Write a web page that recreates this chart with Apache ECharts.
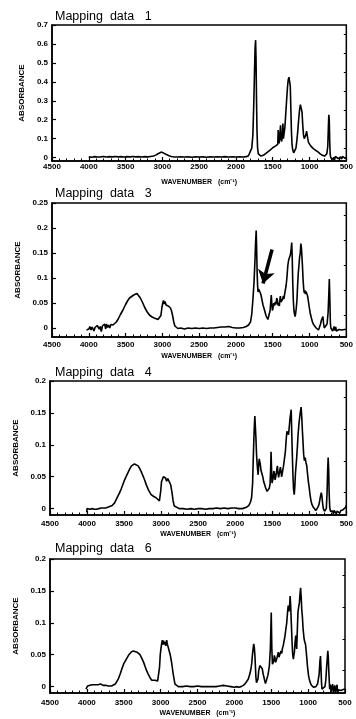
<!DOCTYPE html>
<html>
<head>
<meta charset="utf-8">
<script src="https://cdn.jsdelivr.net/npm/echarts@6/dist/echarts.min.js"></script>
<style>
  html, body { margin: 0; padding: 0; background: #fff; }
  #chart { width: 356px; height: 719px; }
</style>
</head>
<body>
<div id="chart"></div>
<script>
// IR spectra, [wavenumber (cm-1), absorbance]
const spectrum1 = [
  [4000,0.004],[3960,0.002],[3920,0.005],[3880,0.003],[3840,0.004],[3800,0.006],[3760,0.003],[3720,0.005],
  [3680,0.004],[3640,0.006],[3600,0.004],[3560,0.005],[3520,0.003],[3480,0.005],[3440,0.004],[3400,0.006],
  [3360,0.004],[3320,0.005],[3280,0.003],[3240,0.005],[3200,0.004],[3160,0.006],[3120,0.008],[3090,0.013],
  [3060,0.02],[3035,0.027],[3010,0.029],[2990,0.026],[2965,0.02],[2940,0.015],[2910,0.01],[2880,0.006],
  [2850,0.004],[2800,0.003],[2750,0.004],[2700,0.003],[2650,0.004],[2600,0.002],[2550,0.004],[2500,0.003],
  [2450,0.004],[2400,0.002],[2350,0.004],[2300,0.003],[2250,0.004],[2200,0.003],[2150,0.005],[2100,0.003],
  [2050,0.004],[2000,0.003],[1950,0.004],[1900,0.003],[1860,0.005],[1830,0.01],[1805,0.02],[1785,0.05],
  [1770,0.12],[1758,0.28],[1748,0.45],[1740,0.58],[1733,0.62],[1727,0.52],[1721,0.32],[1714,0.14],
  [1706,0.05],[1696,0.02],[1680,0.012],[1660,0.008],[1640,0.01],[1620,0.014],[1600,0.02],[1580,0.026],
  [1560,0.03],[1540,0.038],[1520,0.045],[1500,0.052],[1480,0.058],[1460,0.062],[1440,0.066],[1432,0.07],
  [1426,0.146],[1420,0.09],[1412,0.075],[1400,0.08],[1394,0.17],[1388,0.1],[1378,0.085],[1370,0.12],
  [1362,0.18],[1355,0.1],[1345,0.11],[1335,0.16],[1325,0.22],[1312,0.3],[1300,0.37],[1290,0.41],
  [1280,0.425],[1270,0.43],[1262,0.38],[1254,0.26],[1246,0.14],[1238,0.07],[1228,0.04],[1215,0.025],
  [1205,0.022],[1195,0.03],[1185,0.05],[1172,0.09],[1160,0.14],[1148,0.2],[1136,0.25],[1124,0.28],
  [1112,0.285],[1102,0.24],[1092,0.17],[1082,0.12],[1072,0.1],[1062,0.105],[1050,0.12],[1040,0.14],
  [1032,0.135],[1024,0.1],[1014,0.08],[1000,0.07],[985,0.062],[970,0.055],[955,0.05],[940,0.045],
  [925,0.04],[910,0.042],[900,0.038],[885,0.03],[870,0.025],[855,0.02],[840,0.015],[825,0.012],
  [810,0.01],[795,0.008],[780,0.01],[765,0.02],[752,0.06],[744,0.16],[738,0.226],[732,0.2],
  [726,0.09],[720,0.02],[712,0.0],[700,-0.008],[690,0.004],[680,-0.01],[670,0.002],[660,-0.012],
  [648,0.006],[636,-0.004],[624,0.012],[612,-0.006],[600,0.004],[588,-0.01],[576,0.003],[564,-0.008],
  [552,0.006],[540,0.015],[528,0.008],[516,-0.004],[505,0.002]
];

const spectrum3 = [
  [4030,-0.004],[4025,0.0],[4000,-0.002],[3985,0.003],[3970,-0.004],[3955,0.002],[3942,0.004],[3930,-0.006],
  [3915,0.001],[3900,-0.003],[3885,0.005],[3870,0.006],[3858,-0.002],[3845,0.003],[3830,-0.007],[3815,0.004],
  [3800,0.002],[3785,0.008],[3770,-0.002],[3760,0.008],[3745,0.001],[3730,0.006],[3715,0.0],[3700,0.007],
  [3685,0.003],[3670,0.006],[3650,0.008],[3626,0.012],[3600,0.018],[3570,0.027],[3536,0.036],[3500,0.047],
  [3470,0.055],[3446,0.06],[3420,0.064],[3390,0.066],[3365,0.068],[3345,0.069],[3325,0.066],[3300,0.06],
  [3266,0.05],[3240,0.041],[3210,0.033],[3176,0.026],[3140,0.022],[3110,0.02],[3085,0.019],[3060,0.017],
  [3035,0.015],[3020,0.025],[3005,0.042],[2995,0.05],[2985,0.055],[2975,0.048],[2964,0.053],[2950,0.046],
  [2935,0.049],[2920,0.044],[2905,0.043],[2890,0.04],[2875,0.034],[2860,0.024],[2845,0.012],[2830,0.004],
  [2815,0.001],[2790,-0.001],[2750,0.0],[2700,-0.002],[2650,0.0],[2600,-0.001],[2550,0.0],[2500,-0.001],
  [2450,0.0],[2400,-0.001],[2350,0.0],[2300,0.0],[2250,0.001],[2200,0.002],[2150,0.002],[2100,0.003],
  [2050,0.001],[2000,0.0],[1950,0.0],[1900,0.001],[1860,0.003],[1830,0.006],[1802,0.012],[1785,0.028],
  [1770,0.056],[1755,0.09],[1743,0.13],[1732,0.175],[1725,0.195],[1719,0.16],[1712,0.11],[1706,0.085],
  [1700,0.072],[1692,0.078],[1684,0.074],[1676,0.077],[1668,0.07],[1658,0.065],[1645,0.055],[1632,0.046],
  [1620,0.04],[1605,0.032],[1590,0.024],[1578,0.02],[1566,0.017],[1555,0.013],[1545,0.02],[1536,0.035],
  [1528,0.05],[1520,0.066],[1513,0.05],[1505,0.035],[1496,0.04],[1486,0.05],[1476,0.045],[1466,0.052],
  [1456,0.047],[1446,0.06],[1436,0.055],[1428,0.045],[1419,0.05],[1410,0.044],[1402,0.058],[1396,0.064],
  [1388,0.052],[1380,0.055],[1372,0.05],[1364,0.058],[1356,0.064],[1348,0.058],[1338,0.068],[1328,0.072],
  [1318,0.085],[1306,0.103],[1295,0.125],[1284,0.136],[1272,0.14],[1261,0.146],[1250,0.158],[1242,0.171],
  [1235,0.14],[1228,0.09],[1220,0.055],[1212,0.035],[1204,0.028],[1196,0.023],[1188,0.03],[1180,0.04],
  [1171,0.056],[1162,0.085],[1153,0.11],[1145,0.123],[1136,0.14],[1126,0.15],[1118,0.169],[1110,0.16],
  [1102,0.14],[1095,0.12],[1087,0.095],[1080,0.08],[1072,0.07],[1064,0.075],[1056,0.068],[1048,0.073],
  [1040,0.07],[1030,0.066],[1022,0.06],[1010,0.048],[1000,0.038],[991,0.03],[975,0.02],[960,0.012],
  [946,0.007],[930,0.003],[910,0.0],[890,-0.003],[878,-0.004],[865,0.0],[850,0.008],[838,0.016],
  [826,0.02],[818,0.023],[810,0.01],[800,0.0],[788,-0.003],[775,0.0],[762,0.008],[748,0.03],
  [740,0.06],[731,0.098],[724,0.06],[717,0.01],[710,0.0],[702,-0.004],[695,0.0],[685,-0.006],
  [675,-0.002],[665,0.003],[655,-0.005],[645,0.002],[635,-0.006],[625,-0.002],[612,-0.008],[600,-0.003],
  [588,-0.006],[575,0.0],[562,-0.004],[550,-0.002],[538,-0.006],[525,-0.003],[512,-0.004],[502,-0.003]
];

const spectrum4 = [
  [4005,-0.006],[4000,0.0],[3980,0.001],[3960,-0.001],[3930,0.0],[3900,-0.001],[3873,-0.001],[3840,0.0],
  [3810,0.001],[3784,0.0],[3750,0.001],[3720,0.002],[3695,0.002],[3660,0.005],[3628,0.009],[3590,0.018],
  [3560,0.025],[3538,0.031],[3500,0.043],[3470,0.051],[3449,0.056],[3420,0.063],[3400,0.067],[3382,0.069],
  [3360,0.07],[3337,0.071],[3310,0.067],[3290,0.063],[3269,0.058],[3240,0.05],[3220,0.044],[3202,0.038],
  [3170,0.029],[3135,0.022],[3100,0.019],[3068,0.017],[3045,0.014],[3023,0.012],[3005,0.028],[2995,0.042],
  [2987,0.045],[2970,0.05],[2956,0.053],[2940,0.048],[2926,0.043],[2910,0.047],[2889,0.045],[2870,0.037],
  [2853,0.025],[2838,0.012],[2822,0.004],[2800,0.001],[2755,0.0],[2700,0.0],[2650,-0.001],[2600,0.0],
  [2550,-0.001],[2500,0.0],[2450,0.0],[2400,-0.001],[2350,0.0],[2300,0.0],[2250,0.001],[2200,0.0],
  [2150,0.001],[2100,0.0],[2050,0.001],[2000,0.001],[1950,0.0],[1900,0.0],[1850,0.002],[1815,0.005],
  [1795,0.01],[1779,0.017],[1765,0.04],[1757,0.075],[1745,0.12],[1735,0.145],[1728,0.148],[1720,0.11],
  [1712,0.085],[1704,0.07],[1697,0.06],[1690,0.053],[1682,0.07],[1676,0.078],[1670,0.08],[1662,0.07],
  [1652,0.06],[1640,0.055],[1628,0.05],[1615,0.042],[1603,0.038],[1591,0.033],[1580,0.03],[1570,0.027],
  [1560,0.025],[1550,0.028],[1540,0.032],[1530,0.038],[1522,0.06],[1516,0.089],[1510,0.065],[1503,0.04],
  [1496,0.038],[1488,0.048],[1479,0.059],[1471,0.055],[1462,0.045],[1454,0.049],[1446,0.055],[1438,0.062],
  [1430,0.067],[1422,0.055],[1414,0.049],[1406,0.052],[1398,0.06],[1390,0.065],[1382,0.058],[1374,0.05],
  [1366,0.054],[1359,0.06],[1350,0.065],[1342,0.072],[1333,0.075],[1322,0.09],[1312,0.108],[1302,0.121],
  [1291,0.12],[1280,0.116],[1270,0.128],[1260,0.142],[1250,0.15],[1244,0.155],[1237,0.12],[1229,0.085],
  [1220,0.05],[1212,0.03],[1203,0.022],[1195,0.035],[1187,0.055],[1180,0.065],[1170,0.08],[1160,0.098],
  [1150,0.118],[1140,0.132],[1131,0.142],[1120,0.152],[1110,0.159],[1100,0.14],[1092,0.12],[1085,0.105],
  [1076,0.085],[1066,0.075],[1055,0.08],[1045,0.072],[1035,0.068],[1024,0.055],[1012,0.042],[1001,0.033],
  [990,0.022],[978,0.013],[966,0.007],[950,0.003],[930,0.0],[912,-0.003],[899,-0.002],[885,0.002],
  [870,0.006],[860,0.012],[848,0.02],[838,0.025],[830,0.02],[820,0.008],[810,0.0],[795,-0.004],
  [782,-0.006],[770,0.0],[760,0.025],[752,0.06],[745,0.08],[738,0.06],[732,0.025],[724,0.002],
  [715,-0.004],[705,-0.002],[695,-0.007],[685,-0.004],[675,-0.008],[665,-0.003],[655,-0.006],[645,-0.002],
  [635,-0.008],[625,-0.004],[615,-0.006],[600,-0.001],[588,-0.007],[575,-0.003],[560,-0.006],[548,-0.002],
  [535,-0.005],[522,-0.001],[510,0.002],[503,0.005]
];

const spectrum6 = [
  [4012,-0.004],[4008,-0.001],[3990,0.001],[3970,0.0],[3958,0.002],[3940,0.001],[3920,0.003],[3900,0.002],
  [3885,0.003],[3867,0.002],[3850,0.003],[3830,0.002],[3815,0.004],[3799,0.003],[3780,0.002],[3760,0.001],
  [3745,0.002],[3731,0.001],[3710,0.001],[3690,0.002],[3665,0.001],[3641,0.001],[3615,0.004],[3596,0.006],
  [3570,0.013],[3545,0.021],[3528,0.027],[3500,0.036],[3480,0.04],[3460,0.043],[3430,0.05],[3400,0.054],
  [3370,0.056],[3347,0.055],[3320,0.054],[3300,0.051],[3280,0.05],[3250,0.043],[3230,0.038],[3212,0.032],
  [3190,0.025],[3170,0.02],[3144,0.014],[3120,0.01],[3099,0.009],[3080,0.01],[3060,0.008],[3040,0.009],
  [3031,0.008],[3015,0.03],[3005,0.05],[2995,0.06],[2985,0.068],[2977,0.073],[2968,0.066],[2960,0.072],
  [2950,0.066],[2940,0.07],[2930,0.064],[2918,0.073],[2908,0.066],[2898,0.062],[2886,0.06],[2870,0.05],
  [2850,0.037],[2830,0.02],[2815,0.01],[2805,0.004],[2780,0.001],[2760,0.0],[2700,0.0],[2650,0.001],
  [2600,0.0],[2550,0.0],[2500,0.001],[2450,0.0],[2400,0.0],[2350,0.0],[2300,0.0],[2250,0.0],
  [2200,0.001],[2150,0.002],[2100,0.001],[2050,0.0],[2000,-0.001],[1970,0.0],[1940,-0.001],[1910,0.0],
  [1879,0.002],[1850,0.005],[1830,0.008],[1811,0.012],[1790,0.02],[1775,0.028],[1765,0.036],[1755,0.05],
  [1745,0.06],[1738,0.067],[1730,0.062],[1722,0.05],[1716,0.035],[1708,0.015],[1700,0.006],[1690,0.003],
  [1680,0.012],[1670,0.025],[1662,0.028],[1655,0.033],[1647,0.036],[1640,0.03],[1630,0.033],[1622,0.028],
  [1610,0.02],[1600,0.015],[1590,0.01],[1578,0.005],[1566,0.003],[1555,0.006],[1545,0.018],[1535,0.025],
  [1525,0.033],[1512,0.06],[1500,0.116],[1492,0.06],[1484,0.035],[1476,0.033],[1466,0.04],[1458,0.049],
  [1449,0.045],[1440,0.038],[1430,0.041],[1420,0.046],[1412,0.048],[1404,0.054],[1395,0.046],[1386,0.043],
  [1378,0.047],[1368,0.056],[1358,0.052],[1348,0.06],[1336,0.065],[1325,0.072],[1313,0.08],[1302,0.09],
  [1290,0.1],[1280,0.115],[1270,0.127],[1260,0.118],[1252,0.125],[1244,0.142],[1237,0.128],[1228,0.1],
  [1218,0.07],[1209,0.05],[1200,0.043],[1192,0.05],[1186,0.054],[1178,0.068],[1168,0.08],[1160,0.065],
  [1155,0.059],[1146,0.09],[1138,0.116],[1128,0.125],[1118,0.132],[1110,0.145],[1102,0.155],[1094,0.14],
  [1086,0.12],[1078,0.11],[1068,0.09],[1055,0.075],[1045,0.07],[1035,0.066],[1028,0.064],[1018,0.045],
  [1010,0.033],[995,0.018],[985,0.012],[973,0.007],[960,0.003],[945,0.0],[928,-0.001],[910,0.001],
  [895,0.0],[884,0.002],[872,0.004],[862,0.007],[850,0.02],[840,0.04],[832,0.048],[826,0.03],
  [818,0.005],[812,-0.004],[800,-0.006],[790,-0.004],[785,-0.006],[772,0.0],[760,0.01],[750,0.029],
  [740,0.045],[733,0.056],[726,0.045],[718,0.02],[708,-0.004],[698,0.003],[688,-0.008],[678,-0.002],
  [668,0.004],[658,-0.01],[648,-0.003],[638,0.002],[628,-0.009],[618,-0.004],[608,0.003],[598,-0.01],
  [588,-0.005],[578,-0.008],[568,-0.003],[555,-0.006],[545,-0.004],[530,-0.005],[515,-0.004],[503,-0.003]
];

const panelTitles = ['Mapping  data   1', 'Mapping  data   3', 'Mapping  data   4', 'Mapping  data   6'];

// y tick labels (major) and minor tick positions
const yTicks1 = [0, 0.1, 0.2, 0.3, 0.4, 0.5, 0.6, 0.7];
const yMinor1 = [0.05, 0.15, 0.25, 0.35, 0.45, 0.55, 0.65];
const yTicks3 = [0, 0.05, 0.1, 0.15, 0.2, 0.25];
const yMinor3 = [0.025, 0.075, 0.125, 0.175, 0.225];
const yTicks4 = [0, 0.05, 0.1, 0.15, 0.2];
const yMinor4 = [0.025, 0.075, 0.125, 0.175];
const yTicks6 = [0, 0.05, 0.1, 0.15, 0.2];
const yMinor6 = [0.025, 0.075, 0.125, 0.175];

// arrow drawn on "Mapping data 3"
const arrowFrom = [1510, 0.157];
const arrowTo = [1632, 0.089];

const black = '#000'
const font = 'Liberation Sans'

const panels = [
  { data: spectrum1, ticks: yTicks1, minor: yMinor1, min: -0.018, max: 0.7,  left: 52, right: 7,  top: 25,  height: 136, titleTop: 10,  lblMargin: 2, nameGap: 18 },
  { data: spectrum3, ticks: yTicks3, minor: yMinor3, min: -0.018, max: 0.25, left: 52, right: 8,  top: 203, height: 134, titleTop: 187, lblMargin: 4, nameGap: 16 },
  { data: spectrum4, ticks: yTicks4, minor: yMinor4, min: -0.01,  max: 0.2,  left: 50, right: 8,  top: 381, height: 134, titleTop: 366, lblMargin: 5, nameGap: 16 },
  { data: spectrum6, ticks: yTicks6, minor: yMinor6, min: -0.01,  max: 0.2,  left: 50, right: 11, top: 559, height: 134, titleTop: 542, lblMargin: 6, nameGap: 17 }
]

const chart = echarts.init(document.getElementById('chart'), null, { renderer: 'canvas' })

const grid = [], xAxis = [], yAxis = [], series = [], title = []

panels.forEach((p, i) => {
  grid.push({
    left: p.left, right: p.right, top: p.top, height: p.height,
    show: true, borderColor: black, borderWidth: 1.5, backgroundColor: 'transparent'
  })

  title.push({
    text: panelTitles[i], left: 55, top: p.titleTop, padding: 0,
    textStyle: { fontFamily: font, fontSize: 12.5, fontWeight: 'normal', color: black }
  })

  xAxis.push({
    gridIndex: i, type: 'value', min: 500, max: 4500, interval: 500, inverse: true,
    axisLine: { show: true, onZero: false, lineStyle: { color: black, width: 1.5 } },
    axisTick: { show: true, inside: true, length: 4, lineStyle: { color: black, width: 1.2 } },
    minorTick: { show: true, splitNumber: 5, length: 2.5, lineStyle: { color: black, width: 1 } },
    splitLine: { show: false },
    axisLabel: {
      color: black, fontFamily: font, fontSize: 8, fontWeight: 'bold', margin: p.lblMargin,
      formatter: (v) => String(v)
    },
    name: 'WAVENUMBER   (cm⁻¹)', nameLocation: 'middle', nameGap: p.nameGap,
    nameTextStyle: { color: black, fontFamily: font, fontSize: 7, fontWeight: 'bold' }
  })

  // main y axis with labels
  yAxis.push({
    gridIndex: i, type: 'value', min: p.min, max: p.max,
    axisLine: { show: true, onZero: false, lineStyle: { color: black, width: 1.5 } },
    axisTick: { show: true, inside: true, length: 4, customValues: p.ticks, lineStyle: { color: black, width: 1.2 } },
    axisLabel: { customValues: p.ticks, color: black, fontFamily: font, fontSize: 8, fontWeight: 'bold', margin: 4 },
    splitLine: { show: false },
    name: 'ABSORBANCE', nameLocation: 'middle', nameGap: 26,
    nameTextStyle: { color: black, fontFamily: font, fontSize: 8, fontWeight: 'bold' }
  })
  // minor ticks
  yAxis.push({
    gridIndex: i, type: 'value', min: p.min, max: p.max,
    axisLine: { show: false },
    axisTick: { show: true, inside: true, length: 2.5, customValues: p.minor, lineStyle: { color: black, width: 1 } },
    axisLabel: { show: false },
    splitLine: { show: false }
  })

  const s = {
    type: 'line', xAxisIndex: i, yAxisIndex: i * 2, data: p.data,
    showSymbol: false, symbol: 'none', clip: true,
    lineStyle: { color: black, width: 1.6 }
  }
  if (i === 1) {
    s.markLine = {
      silent: true, symbol: ['none', 'arrow'], symbolSize: 13,
      label: { show: false },
      lineStyle: { color: black, width: 3.5, type: 'solid' },
      data: [[{ coord: arrowFrom }, { coord: arrowTo }]]
    }
  }
  series.push(s)
})

chart.setOption({
  animation: false,
  backgroundColor: '#fff',
  title, grid, xAxis, yAxis, series
})
</script>
</body>
</html>
